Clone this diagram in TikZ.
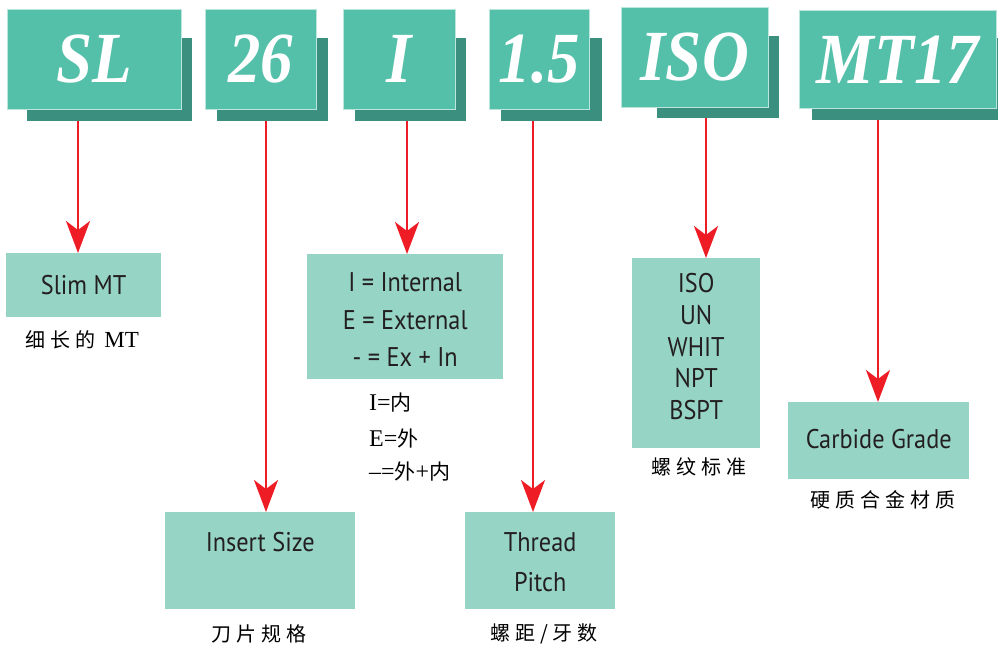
\documentclass[tikz,border=0pt]{standalone}
\usepackage{fontspec}
\setmainfont{Liberation Serif}
\setsansfont{PT Sans}[FakeStretch=0.9]
\newfontfamily\topfont{Liberation Serif}[FakeStretch=0.9]
\newfontfamily\cjk{Noto Sans CJK SC}[LetterSpace=25]
\newfontfamily\cjkn{Noto Sans CJK SC}
\usetikzlibrary{arrows.meta,calc}
\definecolor{topc}{HTML}{54C0AA}
\definecolor{shc}{HTML}{3A8F7E}
\definecolor{lowc}{HTML}{96D4C5}
\definecolor{arrc}{HTML}{EE1C25}
\definecolor{txtc}{HTML}{231F20}
\begin{document}
\begin{tikzpicture}[x=1pt,y=-1pt,
 topbox/.style={fill=topc, draw=white!60!topc, line width=0.6pt, anchor=north west, inner sep=0pt, text=white, font=\topfont\fontsize{72}{72}\selectfont\bfseries\itshape},
 shbox/.style={fill=shc, anchor=north west, inner sep=0pt},
 lowbox/.style={fill=lowc, anchor=north west, inner sep=0pt},
 boxtext/.style={anchor=center, inner sep=0pt, align=center, text=txtc, font=\sffamily\fontsize{27}{32}\selectfont},
 lab/.style={anchor=center, text=black, inner sep=0pt, font=\cjk\fontsize{20}{24}\selectfont},
 sublab/.style={anchor=west, text=black, inner sep=0pt, font=\fontsize{24}{26}\selectfont},
 arr/.style={draw=arrc, line width=2.5pt, -{Stealth[length=32pt,width=24pt,inset=9pt]}}]
\useasboundingbox (0,0) rectangle (998,649);
% top boxes with shadows
\node[shbox, minimum width=165pt, minimum height=83pt] (s1) at (27,38) {};
\node[topbox, minimum width=174pt, minimum height=100pt] (t1) at (7,9) {SL};
\node[shbox, minimum width=111pt, minimum height=83pt] (s2) at (217,38) {};
\node[topbox, minimum width=111pt, minimum height=100pt] (t2) at (205,9) {26};
\node[shbox, minimum width=111pt, minimum height=83pt] (s3) at (355,38) {};
\node[topbox, minimum width=112pt, minimum height=100pt] (t3) at (343,9) {I};
\node[shbox, minimum width=101pt, minimum height=83pt] (s4) at (501,38) {};
\node[topbox, minimum width=100pt, minimum height=100pt] (t4) at (489,9) {1.5};
\node[shbox, minimum width=122pt, minimum height=82pt] (s5) at (657,36) {};
\node[topbox, minimum width=147pt, minimum height=100pt] (t5) at (621,7) {ISO};
\node[shbox, minimum width=196pt, minimum height=82pt] (s6) at (812,38) {};
\node[topbox, minimum width=197pt, minimum height=98pt] (t6) at (799,10) {MT17};
% lower boxes
\node[lowbox, minimum width=155pt, minimum height=64pt] (l1) at (6,253) {};
\node[lowbox, minimum width=190pt, minimum height=97pt] (l2) at (165,512) {};
\node[lowbox, minimum width=196pt, minimum height=125pt] (l3) at (307,254) {};
\node[lowbox, minimum width=150pt, minimum height=97pt] (l4) at (465,512) {};
\node[lowbox, minimum width=128pt, minimum height=190pt] (l5) at (632,258) {};
\node[lowbox, minimum width=181pt, minimum height=77pt] (l6) at (788,402) {};
% box texts
\node[boxtext] (x1) at ([yshift=0pt]l1.center) {Slim MT};
\node[boxtext] (x2) at ([yshift=18.5pt]l2.center) {Insert Size};
\node[boxtext, font=\sffamily\fontsize{27}{37.5}\selectfont] (x3) at ([yshift=-3pt]l3.center) {I = Internal\\E = External\\- = Ex + In};
\node[boxtext, font=\sffamily\fontsize{27}{40}\selectfont] (x4) at ([yshift=-1pt]l4.center) {Thread\\Pitch};
\node[boxtext, font=\sffamily\fontsize{27}{31.8}\selectfont] (x5) at ([yshift=6.5pt]l5.center) {ISO\\UN\\WHIT\\NPT\\BSPT};
\node[boxtext] (x6) at ([yshift=2pt]l6.center) {Carbide Grade};
% arrow positions
\coordinate (a1) at (78,0);
\coordinate (a2) at (266,0);
\coordinate (a3) at (407,0);
\coordinate (a4) at (533,0);
\coordinate (a5) at (706,0);
\coordinate (a6) at (878,0);
\draw[arr] (s1.south -| a1) -- (a1 |- l1.north);
\draw[arr] (s2.south -| a2) -- (a2 |- l2.north);
\draw[arr] (s3.south -| a3) -- (a3 |- l3.north);
\draw[arr] (s4.south -| a4) -- (a4 |- l4.north);
\draw[arr] (s5.south -| a5) -- (a5 |- l5.north);
\draw[arr] (s6.south -| a6) -- (a6 |- l6.north);
% labels
\node[lab] (c1) at (82,340) {细长的\ {\rmfamily\fontsize{23}{24}\selectfont MT}};
\node[sublab] (c3a) at (369,403) {I={\cjkn\fontsize{21}{22}\selectfont 内}};
\node[sublab] (c3b) at (369,438) {E={\cjkn\fontsize{21}{22}\selectfont 外}};
\node[sublab] (c3c) at (369,472) {\textendash={\cjkn\fontsize{21}{22}\selectfont 外}+{\cjkn\fontsize{21}{22}\selectfont 内}};
\node[lab] (c5) at (699,467) {螺纹标准};
\node[lab] (c6) at (883,500) {硬质合金材质};
\node[lab] (c2) at (259,634) {刀片规格};
\node[lab] (c4) at (544,634) {螺距/牙数};
\end{tikzpicture}
\end{document}
